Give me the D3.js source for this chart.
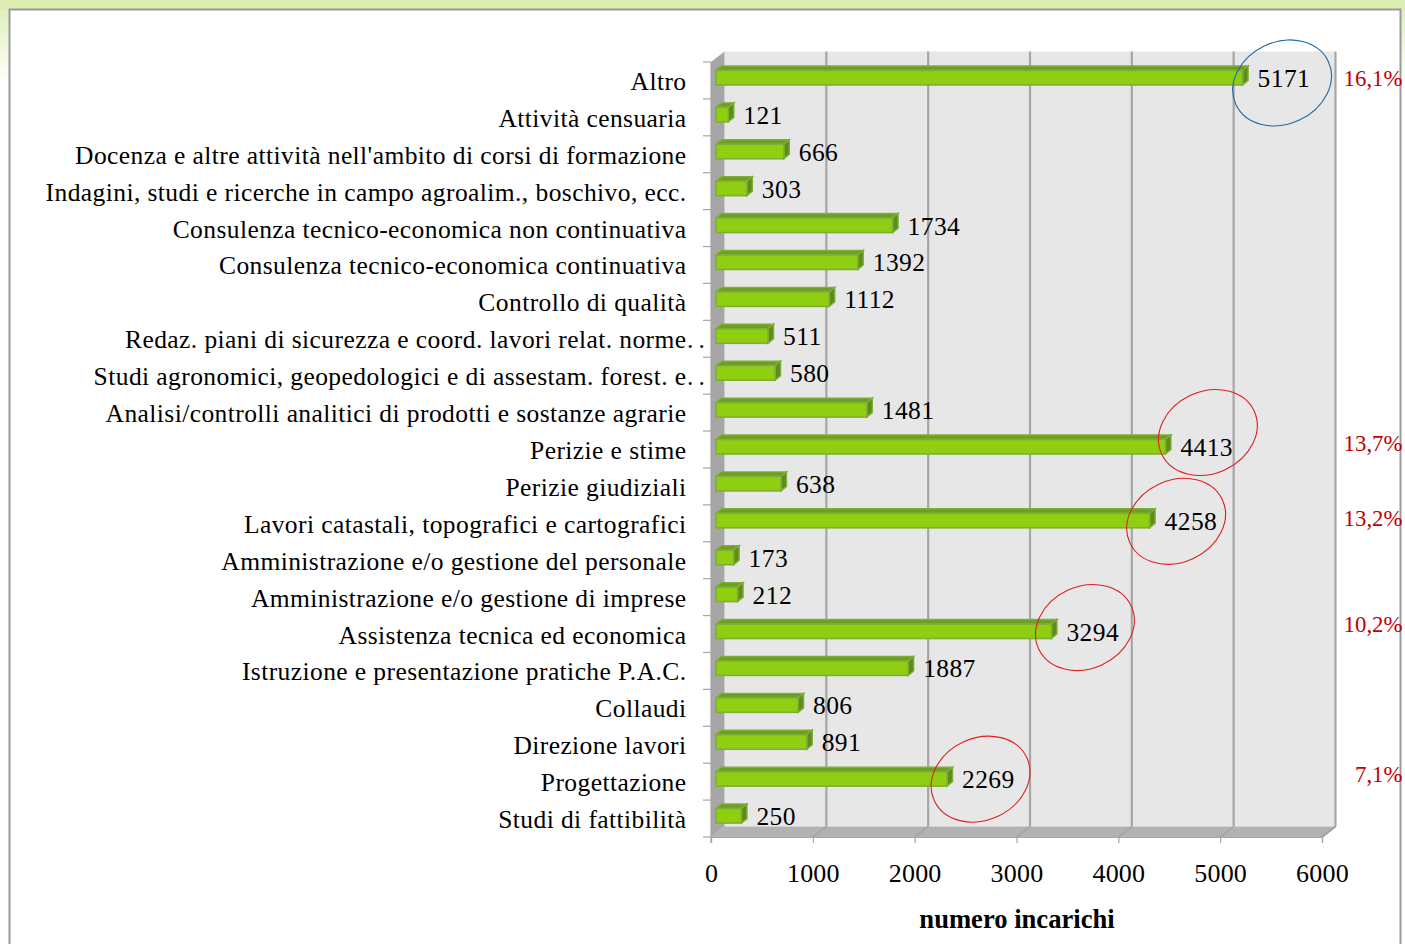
<!DOCTYPE html>
<html><head><meta charset="utf-8">
<script src="https://cdnjs.cloudflare.com/ajax/libs/d3/7.8.5/d3.min.js"></script>
<style>html,body{margin:0;padding:0;background:#fff;overflow:hidden}svg{display:block}text{font-family:"Liberation Serif",serif;fill:#000}</style>
</head><body><svg id="c" width="1405" height="944"></svg>
<script>
const categories=["Altro","Attività censuaria","Docenza e altre attività nell'ambito di corsi di formazione","Indagini, studi e ricerche in campo agroalim., boschivo, ecc.","Consulenza tecnico-economica non continuativa","Consulenza tecnico-economica continuativa","Controllo di qualità","Redaz. piani di sicurezza e coord. lavori relat. norme..","Studi agronomici, geopedologici e di assestam. forest. e..","Analisi/controlli analitici di prodotti e sostanze agrarie","Perizie e stime","Perizie giudiziali","Lavori catastali, topografici e cartografici","Amministrazione e/o gestione del personale","Amministrazione e/o gestione di imprese","Assistenza tecnica ed economica","Istruzione e presentazione pratiche P.A.C.","Collaudi","Direzione lavori","Progettazione","Studi di fattibilità"];
const values=[5171,121,666,303,1734,1392,1112,511,580,1481,4413,638,4258,173,212,3294,1887,806,891,2269,250];
const xTicks=[0,1000,2000,3000,4000,5000,6000];
const highlightCats=["Altro","Perizie e stime","Lavori catastali, topografici e cartografici","Assistenza tecnica ed economica","Progettazione"];
const highlightPct=["16,1%","13,7%","13,2%","10,2%","7,1%"];
const ringShiftX=[34,37,21,28,28];
const ringShiftY=[2.5,-17,-2,-6.5,-2.5];
const pctShiftY=[6,1,2.5,-2.5,0];
const axisTitle="numero incarichi";

const svg=d3.select("#c");
const defs=svg.append("defs");
const lg=defs.append("linearGradient").attr("id","bgl").attr("x1",0).attr("x2",0).attr("y1",0).attr("y2",1);
lg.append("stop").attr("offset",0).attr("stop-color","#dcedb2");
lg.append("stop").attr("offset",1).attr("stop-color","#ffffff");
svg.append("rect").attr("width",1405).attr("height",84).attr("fill","url(#bgl)");
svg.append("rect").attr("x",0).attr("y",0).attr("width",1405).attr("height",10).attr("fill","#dcedb2");
svg.append("rect").attr("x",9.5).attr("y",9.5).attr("width",1391).attr("height",940).attr("fill","#fff").attr("stroke","#9a9a9a").attr("stroke-width",2);

const x=d3.scaleLinear().domain([0,6000]).range([711,1322]);
const y=d3.scaleBand().domain(categories).range([62,837]);
const dx=13.5,dy=-10.5;
const wall="#e7e7e7",side="#a6a6a6",grid="#a6a6a6";
const [x0,x1]=x.range(),[yT,yB]=y.range();
const poly=(pts,f)=>svg.append("polygon").attr("points",pts.map(p=>p.join(",")).join(" ")).attr("fill",f);
poly([[x0+dx,yT+dy],[x1+dx,yT+dy],[x1+dx,yB+dy],[x0+dx,yB+dy]],wall);
poly([[x0,yT],[x0+dx,yT+dy],[x0+dx,yB+dy],[x0,yB]],side);
poly([[x0,yB],[x0+dx,yB+dy],[x1+dx,yB+dy],[x1,yB]],"#b2b2b2");

svg.append("g").selectAll("line").data(xTicks.slice(1)).join("line")
 .attr("x1",d=>x(d)+dx).attr("x2",d=>x(d)+dx).attr("y1",yT+dy).attr("y2",yB+dy)
 .attr("stroke",grid).attr("stroke-width",2.2);
svg.append("g").selectAll("line").data(xTicks.slice(1)).join("line")
 .attr("x1",d=>x(d)).attr("x2",d=>x(d)+dx).attr("y1",yB).attr("y2",yB+dy)
 .attr("stroke","#a0a0a0").attr("stroke-width",1.2);
svg.append("line").attr("x1",x1+dx).attr("x2",x1).attr("y1",yB+dy).attr("y2",yB).attr("stroke","#a0a0a0").attr("stroke-width",2);

// x axis
const gx=svg.append("g").attr("transform",`translate(0,${yB})`).call(d3.axisBottom(x).tickValues(xTicks).tickSize(6).tickFormat(d3.format("d")));
gx.select(".domain").attr("stroke","#a6a6a6").attr("stroke-width",1.2);
gx.selectAll(".tick line").attr("stroke","#a6a6a6").attr("stroke-width",1.2);
gx.selectAll(".tick text").attr("y",27).attr("dy","0.71em").attr("font-size",26).attr("font-family","Liberation Serif").attr("fill","#000").attr("letter-spacing",0.2);

// y ticks
const edges=categories.map(c=>y(c)).concat([yB]);
svg.append("g").selectAll("line").data(edges).join("line")
 .attr("x1",x0-8).attr("x2",x0).attr("y1",d=>d).attr("y2",d=>d).attr("stroke","#a6a6a6").attr("stroke-width",1.2);
svg.append("line").attr("x1",x0).attr("x2",x0).attr("y1",yT).attr("y2",yB+6).attr("stroke","#a6a6a6").attr("stroke-width",1.2);

// labels (".." truncation marks are spaced out past the label edge)
const lbl=svg.append("g");
lbl.selectAll("text.m").data(categories).join("text").attr("class","m")
 .attr("x",686.5).attr("y",d=>y(d)+y.bandwidth()/2+9.5).attr("text-anchor","end").attr("font-size",25.5).attr("letter-spacing",0.42)
 .text(d=>d.replace(/\.\.$/,""));
lbl.selectAll("text.t").data(categories.filter(d=>d.endsWith(".."))).join("text").attr("class","t")
 .attr("x",687).attr("y",d=>y(d)+y.bandwidth()/2+9.5).attr("font-size",25.5).attr("letter-spacing",5).text("..");

// bars
const barH=14.5,ox=5,bdx=5.5,bdy=-4.5;
const rows=categories.map((c,i)=>({c,v:values[i]}));
const bars=svg.append("g").selectAll("g").data(rows).join("g")
 .attr("transform",d=>`translate(0,${y(d.c)+y.bandwidth()/2-10})`);
bars.each(function(d){
 const g=d3.select(this),L=x0+ox,R=x(d.v)+ox;
 const edge="#7fae35";
 g.append("polygon").attr("points",`${L},0 ${L+bdx},${bdy} ${R+bdx},${bdy} ${R},0`).attr("fill","#6e9c25").attr("stroke",edge).attr("stroke-width",1.4);
 g.append("polygon").attr("points",`${R},0 ${R+bdx},${bdy} ${R+bdx},${barH+bdy} ${R},${barH}`).attr("fill","#5d8c1e").attr("stroke",edge).attr("stroke-width",1.4);
 g.append("rect").attr("x",L).attr("y",0).attr("width",R-L).attr("height",barH).attr("fill","#8fce10").attr("stroke",edge).attr("stroke-width",1.6);
});

// value labels
svg.append("g").selectAll("text").data(rows).join("text")
 .attr("x",d=>x(d.v)+ox+bdx+9.5).attr("y",d=>y(d.c)+y.bandwidth()/2+6.5).attr("font-size",25.5).attr("letter-spacing",0.4).text(d=>d.v);

// highlight ellipses + percents
const hl=highlightCats.map((c,i)=>({c,p:highlightPct[i],v:values[categories.indexOf(c)],first:i===0,sx:ringShiftX[i],sy:ringShiftY[i],py:pctShiftY[i]}));
svg.append("g").selectAll("ellipse").data(hl).join("ellipse")
 .attr("transform",d=>`translate(${x(d.v)+ox+bdx+d.sx},${y(d.c)+y.bandwidth()/2+d.sy}) rotate(-25)`)
 .attr("rx",51).attr("ry",41).attr("fill","none")
 .attr("stroke",d=>d.first?"#1f6aa5":"#e0201f").attr("stroke-width",1.1);
svg.append("g").selectAll("text").data(hl).join("text")
 .attr("x",1402.5).attr("y",d=>y(d.c)+y.bandwidth()/2+d.py)
 .attr("text-anchor","end").attr("font-size",22.8).style("fill","#c00000").text(d=>d.p);

svg.append("text").attr("x",1017).attr("y",928).attr("text-anchor","middle").attr("font-size",26.6).attr("font-weight","bold").text(axisTitle);
</script></body></html>
